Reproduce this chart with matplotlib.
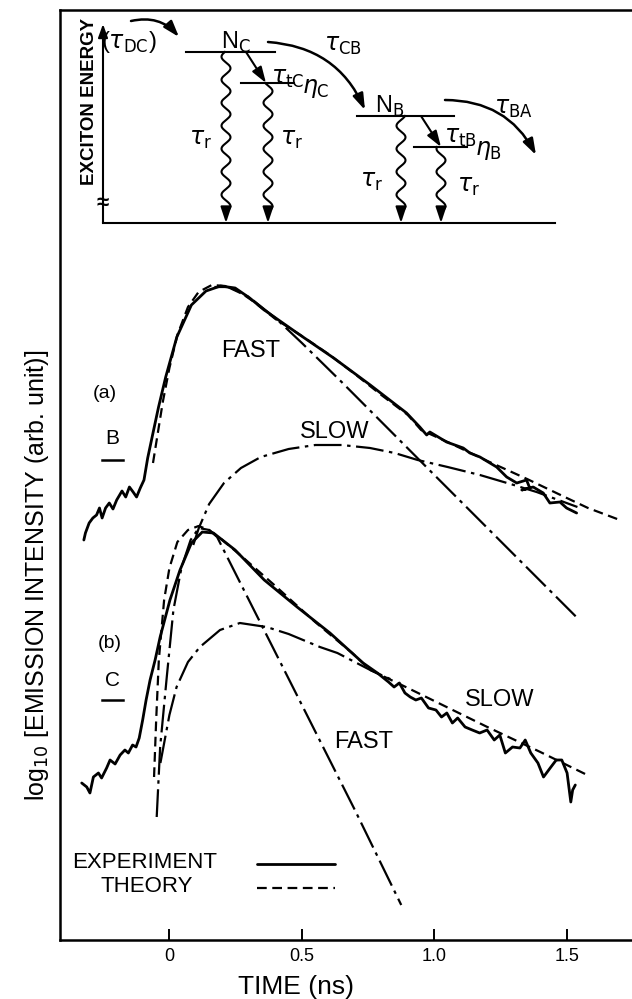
import matplotlib
matplotlib.use("Agg")
import matplotlib.pyplot as plt
import numpy as np
from matplotlib.patches import FancyArrowPatch

plt.rcParams["font.family"] = ["Liberation Sans", "DejaVu Sans"]
plt.rcParams["mathtext.fontset"] = "dejavusans"
plt.rcParams["lines.scale_dashes"] = False

# ---- curve (a): B exciton ------------------------------------------------
exp_a_t = [-0.323, -0.317, -0.303, -0.289, -0.275, -0.264, -0.254, -0.241, -0.227,
           -0.213, -0.199, -0.179, -0.165, -0.151, -0.137, -0.124, -0.110, -0.096,
           -0.082, -0.062, -0.041, -0.014, 0.028, 0.083, 0.138, 0.193, 0.248, 0.303,
           0.358, 0.482, 0.620, 0.758, 0.895, 0.945, 0.971, 0.983, 1.046, 1.109,
           1.134, 1.172, 1.235, 1.273, 1.311, 1.348, 1.36, 1.33, 1.373, 1.411,
           1.436, 1.474, 1.499, 1.537]
exp_a_y = [4.00, 4.07, 4.17, 4.22, 4.25, 4.32, 4.22, 4.32, 4.37,
           4.31, 4.40, 4.49, 4.43, 4.53, 4.48, 4.43, 4.52, 4.60,
           4.82, 5.07, 5.33, 5.63, 6.03, 6.35, 6.49, 6.54, 6.52, 6.42,
           6.30, 6.07, 5.82, 5.55, 5.27, 5.13, 5.05, 5.08, 4.98, 4.92,
           4.87, 4.83, 4.73, 4.63, 4.57, 4.60, 4.52, 4.50, 4.53, 4.47,
           4.37, 4.38, 4.32, 4.27]

theory_a_t = [-0.062, -0.045, -0.025, 0.0, 0.03, 0.07, 0.11, 0.16, 0.21, 0.26, 0.32,
              0.40, 0.50, 0.60, 0.70, 0.80, 0.90, 0.95, 1.05, 1.20, 1.35, 1.50, 1.58, 1.70]
theory_a_y = [4.77, 5.05, 5.38, 5.72, 6.05, 6.33, 6.48, 6.55, 6.54, 6.49, 6.38,
              6.21, 6.04, 5.86, 5.66, 5.45, 5.25, 5.10, 4.98, 4.79, 4.61, 4.42, 4.32, 4.20]

fast_a_t = [0.17, 0.22, 0.30, 0.40, 0.50, 0.65, 1.00, 1.536]
fast_a_y = [6.53, 6.53, 6.43, 6.22, 5.97, 5.58, 4.65, 3.23]

slow_a_t = [0.09, 0.111, 0.15, 0.206, 0.27, 0.345, 0.45, 0.551, 0.65, 0.757, 0.85,
            0.937, 1.05, 1.172, 1.30, 1.386, 1.54]
slow_a_y = [3.95, 4.12, 4.36, 4.57, 4.72, 4.83, 4.91, 4.95, 4.95, 4.92, 4.87,
            4.80, 4.73, 4.65, 4.55, 4.48, 4.33]

# ---- curve (b): C exciton ------------------------------------------------
exp_b_t = [-0.331, -0.312, -0.300, -0.287, -0.268, -0.256, -0.237, -0.224, -0.205,
           -0.186, -0.168, -0.155, -0.139, -0.126, -0.114, -0.101, -0.088, -0.073,
           -0.054, -0.035, 0.002, 0.040, 0.083, 0.124, 0.166, 0.248, 0.358, 0.482,
           0.606, 0.731, 0.785, 0.827, 0.848, 0.868, 0.889, 0.909, 0.930, 0.951,
           0.978, 1.006, 1.027, 1.047, 1.068, 1.088, 1.116, 1.143, 1.171, 1.199,
           1.226, 1.247, 1.268, 1.295, 1.323, 1.343, 1.364, 1.391, 1.412, 1.440,
           1.460, 1.481, 1.501, 1.515, 1.522, 1.532]
exp_b_y = [1.57, 1.53, 1.47, 1.63, 1.67, 1.62, 1.72, 1.80, 1.76,
           1.85, 1.90, 1.87, 1.95, 1.93, 2.02, 2.20, 2.40, 2.60,
           2.80, 3.03, 3.40, 3.70, 3.97, 4.08, 4.07, 3.90, 3.60, 3.33,
           3.07, 2.77, 2.67, 2.58, 2.53, 2.57, 2.47, 2.43, 2.40, 2.42,
           2.32, 2.30, 2.23, 2.27, 2.17, 2.22, 2.13, 2.10, 2.07, 2.10,
           2.00, 2.05, 1.87, 1.93, 1.92, 2.00, 1.87, 1.77, 1.63, 1.73,
           1.80, 1.80, 1.67, 1.38, 1.50, 1.55]

theory_b_t = [-0.058, -0.050, -0.040, -0.020, 0.0, 0.03, 0.07, 0.11, 0.15, 0.20, 0.28,
              0.40, 0.55, 0.69, 0.758, 0.90, 1.00, 1.20, 1.40, 1.577]
theory_b_y = [1.63, 2.20, 2.80, 3.40, 3.72, 3.98, 4.10, 4.14, 4.10, 4.00, 3.82,
              3.54, 3.18, 2.87, 2.70, 2.52, 2.39, 2.13, 1.88, 1.65]

fast_b_t = [-0.048, -0.035, -0.010, 0.015, 0.046, 0.08, 0.111, 0.15, 0.18, 0.30, 0.50, 0.70, 0.875]
fast_b_y = [1.23, 1.93, 2.63, 3.30, 3.73, 4.00, 4.12, 4.10, 4.03, 3.40, 2.35, 1.30, 0.35]

slow_b_t = [-0.034, 0.0, 0.027, 0.07, 0.115, 0.191, 0.266, 0.367, 0.45, 0.568, 0.634, 0.758, 0.85]
slow_b_y = [1.77, 2.25, 2.53, 2.78, 2.93, 3.10, 3.17, 3.13, 3.06, 2.93, 2.87, 2.70, 2.59]

x_ticks = [0, 0.5, 1.0, 1.5]
x_tick_labels = ["0", "0.5", "1.0", "1.5"]

# ---- level scheme (inset, pixel units) -----------------------------------
level_names = [r"N$_{\mathrm{C}}$", r"$\eta_{\mathrm{C}}$", r"N$_{\mathrm{B}}$", r"$\eta_{\mathrm{B}}$"]
level_y = [52, 83, 116, 147]
level_x0 = [186, 241, 357, 414]
level_x1 = [275, 294, 454, 467]
decay_x = [226, 268, 401, 441]
base_y = 223

EXP = dict(color="black", lw=2.0, solid_joinstyle="round", solid_capstyle="round")
THEORY = dict(color="black", lw=1.6, ls=(0, (7, 4)))
COMP = dict(color="black", lw=1.6, ls=(0, (20, 4, 2.5, 4)))

fig = plt.figure(figsize=(6.32, 9.99), dpi=100)
ax = fig.add_axes([60 / 632, 59 / 999, 572 / 632, 930 / 999])

ax.plot(exp_a_t, exp_a_y, **EXP)
ax.plot(theory_a_t, theory_a_y, **THEORY)
ax.plot(fast_a_t, fast_a_y, **COMP)
ax.plot(slow_a_t, slow_a_y, **COMP)

ax.plot(exp_b_t, exp_b_y, **EXP)
ax.plot(theory_b_t, theory_b_y, **THEORY)
ax.plot(fast_b_t, fast_b_y, **COMP)
ax.plot(slow_b_t, slow_b_y, **COMP)

ax.set_xlim(-0.413, 1.746)
ax.set_ylim(0, 9.30)
ax.set_xticks(x_ticks)
ax.set_xticklabels(x_tick_labels)
ax.set_yticks([])
ax.tick_params(axis="x", direction="in", length=8, width=1.4, labelsize=13, pad=6)
for side in ["left", "bottom", "top"]:
    ax.spines[side].set_linewidth(1.8)
ax.spines["right"].set_visible(False)

ax.set_xlabel("TIME (ns)", fontsize=19)
ax.xaxis.set_label_coords(0.413, -0.038)
ax.set_ylabel(r"log$_{10}$ [EMISSION INTENSITY (arb. unit)]", fontsize=18)
ax.yaxis.set_label_coords(-0.016, 0.392)

big = 17
ax.text(0.306, 5.89, "FAST", fontsize=big, ha="center", va="center")
ax.text(0.623, 5.08, "SLOW", fontsize=big, ha="center", va="center")
ax.text(0.733, 1.98, "FAST", fontsize=big, ha="center", va="center")
ax.text(1.247, 2.40, "SLOW", fontsize=big, ha="center", va="center")

ax.text(-0.243, 5.47, "(a)", fontsize=14, ha="center", va="center")
ax.text(-0.215, 5.02, "B", fontsize=15, ha="center", va="center")
ax.plot([-0.253, -0.177], [4.80, 4.80], color="black", lw=1.8)
ax.text(-0.224, 2.97, "(b)", fontsize=14, ha="center", va="center")
ax.text(-0.215, 2.60, "C", fontsize=15, ha="center", va="center")
ax.plot([-0.256, -0.175], [2.40, 2.40], color="black", lw=1.8)

ax.text(-0.092, 0.77, "EXPERIMENT", fontsize=16, ha="center", va="center")
ax.text(-0.085, 0.53, "THEORY", fontsize=16, ha="center", va="center")
ax.plot([0.332, 0.626], [0.76, 0.76], **EXP)
ax.plot([0.332, 0.626], [0.52, 0.52], **THEORY)

# ---- inset energy-level diagram -----------------------------------------
dax = fig.add_axes([0, 0, 1, 1])
dax.set_xlim(0, 632)
dax.set_ylim(999, 0)
dax.axis("off")

LW = 1.5
dax.plot([103, 555], [base_y, base_y], color="black", lw=LW)
dax.annotate("", xy=(103, 24), xytext=(103, base_y),
             arrowprops=dict(arrowstyle="-|>,head_length=0.5,head_width=0.18",
                             color="black", lw=LW, shrinkA=0, shrinkB=0, mutation_scale=16))
dax.text(103, 203, "≈", fontsize=16, ha="center", va="center", fontweight="bold")
dax.text(90, 101, "EXCITON ENERGY", rotation=90, ha="center", va="center", fontsize=13.5,
         fontweight="bold", family=["Liberation Sans Narrow", "Liberation Sans", "DejaVu Sans"])

for x0, x1, y in zip(level_x0, level_x1, level_y):
    dax.plot([x0, x1], [y, y], color="black", lw=LW)


def wavy(x0, y_top, y_bot, amp=4.5, period=23):
    yy = np.linspace(y_top, y_bot - 11, 300)
    xx = x0 + amp * np.sin(2 * np.pi * (y_bot - 11 - yy) / period)
    dax.plot(xx, yy, color="black", lw=LW)
    dax.annotate("", xy=(x0, y_bot), xytext=(x0, y_bot - 12),
                 arrowprops=dict(arrowstyle="-|>,head_length=0.6,head_width=0.2",
                                 color="black", lw=LW, shrinkA=0, shrinkB=0, mutation_scale=16))


for x, y in zip(decay_x, level_y):
    wavy(x, y, base_y)

# transfer arrows between a level and its trap
for (xa, ya), (xb, yb) in [((246, 52), (266, 83)), ((421, 116), (441, 147))]:
    dax.annotate("", xy=(xb, yb), xytext=(xa, ya),
                 arrowprops=dict(arrowstyle="-|>,head_length=0.6,head_width=0.2",
                                 color="black", lw=LW, shrinkA=0, shrinkB=0, mutation_scale=16))

for p0, p1 in [((131, 21), (179, 37)), ((268, 42), (365, 110)), ((445, 100), (536, 155))]:
    dax.add_patch(FancyArrowPatch(p0, p1, connectionstyle="arc3,rad=-0.3",
                                  arrowstyle="-|>,head_length=0.6,head_width=0.2",
                                  mutation_scale=16, color="black", lw=1.8,
                                  shrinkA=0, shrinkB=0))

lab = 17
dax.text(129, 42, r"($\tau_{\mathrm{DC}}$)", fontsize=lab, ha="center", va="center")
dax.text(236, 42, level_names[0], fontsize=lab, ha="center", va="center")
dax.text(343, 46, r"$\tau_{\mathrm{CB}}$", fontsize=lab, ha="center", va="center")
dax.text(288, 79, r"$\tau_{\mathrm{tC}}$", fontsize=lab, ha="center", va="center")
dax.text(316, 88, level_names[1], fontsize=lab, ha="center", va="center")
dax.text(200, 140, r"$\tau_{\mathrm{r}}$", fontsize=lab, ha="center", va="center")
dax.text(291, 140, r"$\tau_{\mathrm{r}}$", fontsize=lab, ha="center", va="center")
dax.text(390, 106, level_names[2], fontsize=lab, ha="center", va="center")
dax.text(513, 109, r"$\tau_{\mathrm{BA}}$", fontsize=lab, ha="center", va="center")
dax.text(460, 138, r"$\tau_{\mathrm{tB}}$", fontsize=lab, ha="center", va="center")
dax.text(489, 150, level_names[3], fontsize=lab, ha="center", va="center")
dax.text(371, 182, r"$\tau_{\mathrm{r}}$", fontsize=lab, ha="center", va="center")
dax.text(468, 187, r"$\tau_{\mathrm{r}}$", fontsize=lab, ha="center", va="center")

fig.savefig("out.png", dpi=100)
